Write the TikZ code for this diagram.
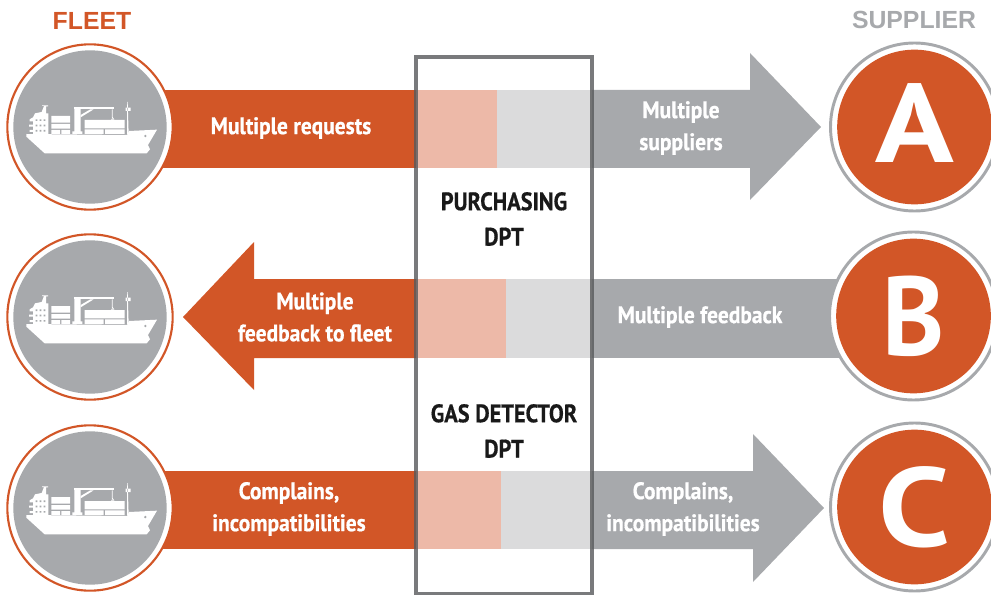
\documentclass[tikz,border=0pt]{standalone}
\usepackage{graphicx}
\usepackage{fontspec}
\setmainfont{PT Sans}
\newfontfamily\lblfont[FakeStretch=0.9,FakeBold=0.6]{PT Sans Bold}
\newfontfamily\dptfont[FakeStretch=0.88,FakeBold=0.6]{PT Sans Bold}
\newfontfamily\letfont{PT Sans Bold}
\newfontfamily\headfont{Liberation Sans Bold}
\definecolor{org}{HTML}{D25627}
\definecolor{gry}{HTML}{A7A9AC}
\definecolor{porg}{HTML}{EDB9A8}
\definecolor{pgry}{HTML}{DBDBDC}
\definecolor{boxc}{HTML}{58595B}
\tikzset{
 lbl/.style={font=\lblfont\fontsize{17.9}{24}\selectfont,align=center,text=white,inner sep=0pt},
 dpt/.style={font=\dptfont\fontsize{19}{26.5}\selectfont,align=center,text=black!90,inner sep=0pt},
 fleetring/.style={circle,draw=org,line width=1.6pt,minimum size=124pt,inner sep=0pt},
 fleetdisc/.style={circle,fill=gry,minimum size=115pt,inner sep=0pt},
 supring/.style={circle,draw=gry,line width=2.2pt,minimum size=126pt,inner sep=0pt},
 supdisc/.style={circle,fill=org,minimum size=116pt,inner sep=0pt},
 letter/.style={text=white,font=\letfont\fontsize{84}{84}\selectfont,inner sep=0pt},
 hd/.style={font=\headfont\fontsize{18.6}{20}\selectfont,inner sep=0pt},
 ship/.pic={
  \begin{scope}[x=0.25pt,y=-0.25pt,shift={(-271,-291)}]
   \fill[white] (80,312)--(382,315)--(388,303)--(472,299)--(445,345)--(451,358)--(441,370)--(135,370)--(80,320)--cycle;
   \fill[white] (100,312)--(100,306)--(90,306)--(90,300)--(100,300)--(100,290)--(88,290)--(88,284)--(100,284)--(100,274)--(90,274)--(90,268)--(100,262)--(106,250)--(126,246)--(133,228)--(127,228)--(127,226)--(145,226)--(145,229)--(139,229)--(139,250)--(146,250)--(146,312)--cycle;
   \fill[gry] foreach \i in {108,120,132} { foreach \j in {268,284,300} { (\i,\j) rectangle +(5,5) } };
   \fill[white] (155,258) rectangle (211,278) (155,282) rectangle (211,296) (155,300) rectangle (181,312) (185,300) rectangle (211,312);
   \fill[white] (218,304) rectangle (248,312) (224,232) rectangle (243,304);
   \fill[white] (224,232) rectangle (344,238);
   \fill[white] (243,255)--(272,238)--(282,238)--(243,262)--cycle;
   \draw[white,line width=.6pt] (338,238)--(338,262)--(342,268)--(334,268);
   \fill[white] (255,270) rectangle (375,295) (255,298) rectangle (312,312) (316,298) rectangle (375,312);
   \fill[white] (382,216)--(384,216)--(387,312)--(382,312)--cycle (378,233) rectangle (393,243);
   \fill[gry] (437,318) circle (4);
  \end{scope}
 }
}
\begin{document}
\begin{tikzpicture}[x=0.75pt,y=-0.75pt]
\useasboundingbox (0,0) rectangle (991,595);
% arrow 1
\fill[org] (150,90) rectangle (416,168);
\fill[porg] (416,90) rectangle (497,168);
\fill[pgry] (497,90) rectangle (592,168);
\fill[gry] (592,90)--(750,90)--(750,53)--(821,127)--(750,200)--(750,168)--(592,168)--cycle;
% arrow 2
\fill[org] (416,279)--(254,279)--(254,242)--(183,317)--(254,390)--(254,358)--(416,358)--cycle;
\fill[porg] (416,279) rectangle (506,358);
\fill[pgry] (506,279) rectangle (592,358);
\fill[gry] (592,279) rectangle (850,358);
% arrow 3
\fill[org] (150,471) rectangle (416,549);
\fill[porg] (416,471) rectangle (501,549);
\fill[pgry] (501,471) rectangle (592,549);
\fill[gry] (592,471)--(753,471)--(753,434)--(824,508)--(753,582)--(753,549)--(592,549)--cycle;
% box
\draw[boxc,opacity=.8,line width=2.5pt] (416,57) rectangle (592,594);
% fleet
\foreach \n/\y in {a/127,b/317,c/508}{
 \node[fill=white,fleetring] (fr\n) at (90,\y) {};
 \node[fleetdisc] (fd\n) at (90,\y) {};
 \pic at (90,\y) {ship};
}
% suppliers
\node[fill=white,supring] (sra) at (914.5,127) {};
\node[supdisc] (sa) at (914.5,127) {};
\node[letter] (la) at (915,123) {\scalebox{1.16}[1]{A}};
\node[fill=white,supring] (srb) at (913.5,316) {};
\node[supdisc] (sb) at (913.5,316) {};
\node[letter] (lb) at (914,316) {\scalebox{0.94}[1]{B}};
\node[fill=white,supring] (src) at (914.5,507) {};
\node[supdisc] (sc) at (914.5,507) {};
\node[letter] (lc) at (914.5,507.5) {\scalebox{1.15}[1]{C}};
% heads
\node[hd,text=org] (fleet) at (92,21) {FLEET};
\node[hd,text=gry] (supplier) at (914,20) {SUPPLIER};
% labels
\node[lbl] (t1) at (291,128) {Multiple requests};
\node[lbl] (t2) at (681,128) {Multiple\\suppliers};
\node[lbl] (t3) at (315,317) {Multiple\\feedback to fleet};
\node[lbl] (t4) at (700,317) {Multiple feedback};
\node[lbl] (t5) at (289,509) {Complains,\\incompatibilities};
\node[lbl] (t6) at (683,509) {Complains,\\incompatibilities};
\node[dpt] (d1) at (504,219) {PURCHASING\\DPT};
\node[dpt] (d2) at (504,431) {GAS DETECTOR\\DPT};
\end{tikzpicture}
\end{document}
